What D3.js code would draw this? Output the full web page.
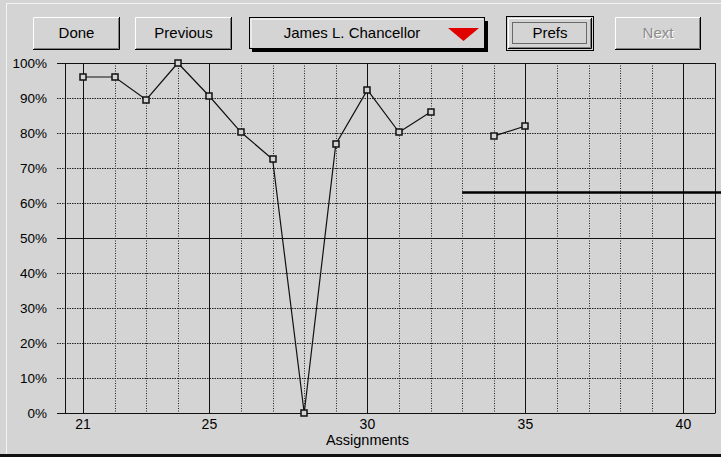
<!DOCTYPE html>
<html lang="en">
<head>
  <title>Assignments</title>
  <script src="https://d3js.org/d3.v7.min.js"></script>
  <style>
    body { margin: 0; background: #d4d4d4; }
    text { font-family: "Liberation Sans", Arial, sans-serif; fill: #000; }
  </style>
</head>
<body>
<div id="dataviz"></div>
<script>
  // assignment numbers and the student's scores (%), null = not handed in
  var assignments = [21, 22, 23, 24, 25, 26, 27, 28, 29, 30, 31, 32, 33, 34, 35];
  var scores = [96, 96, 89.5, 100, 90.5, 80.2, 72.5, 0, 76.8, 92.3, 80.2, 86, null, 79.1, 82];
  var xTickLabels = [21, 25, 30, 35, 40];
  var yTickLabels = [0, 10, 20, 30, 40, 50, 60, 70, 80, 90, 100];
  var solidY = [0, 50, 100];
  // reference line shown from assignment 33 on
  var refStart = 33;
  var refValue = 63;
  var studentName = "James L. Chancellor";

  var W = 721, H = 457;
  var svg = d3.select("#dataviz")
    .append("svg")
    .attr("width", W)
    .attr("height", H)
    .style("display", "block");

  // window frame
  svg.append("rect").attr("x", 0).attr("y", 0).attr("width", W).attr("height", H).attr("fill", "#d4d4d4");
  svg.append("line").attr("x1", 6).attr("x2", W).attr("y1", 3.5).attr("y2", 3.5).attr("stroke", "#f4f4f4");
  svg.append("line").attr("x1", 6.5).attr("x2", 6.5).attr("y1", 3).attr("y2", 454).attr("stroke", "#f4f4f4");
  svg.append("rect").attr("x", 0).attr("y", 454).attr("width", W).attr("height", 3).attr("fill", "#111");

  var x = d3.scaleLinear().domain([20.43, 41]).range([65, 715]);
  var y = d3.scaleLinear().domain([0, 100]).range([413, 63]);

  var g = svg.append("g");

  // dotted vertical grid
  var allX = d3.range(22, 41).filter(function(d){ return xTickLabels.indexOf(d) < 0; });
  g.selectAll(".vdot").data(allX).enter().append("line")
    .attr("x1", function(d){ return Math.round(x(d)) + 0.5; })
    .attr("x2", function(d){ return Math.round(x(d)) + 0.5; })
    .attr("y1", y(100)).attr("y2", y(0))
    .attr("stroke", "#222").attr("stroke-dasharray", "1,1.5");

  // dotted horizontal grid (with left ticks)
  var dotY = yTickLabels.filter(function(d){ return solidY.indexOf(d) < 0; });
  g.selectAll(".hdot").data(dotY).enter().append("line")
    .attr("x1", 57).attr("x2", 715)
    .attr("y1", function(d){ return Math.round(y(d)) + 0.5; })
    .attr("y2", function(d){ return Math.round(y(d)) + 0.5; })
    .attr("stroke", "#222").attr("stroke-dasharray", "1.5,1");

  // solid verticals at labelled ticks
  g.selectAll(".vsol").data(xTickLabels).enter().append("line")
    .attr("x1", function(d){ return Math.round(x(d)) + 0.5; })
    .attr("x2", function(d){ return Math.round(x(d)) + 0.5; })
    .attr("y1", y(100)).attr("y2", y(0))
    .attr("stroke", "#111");

  // solid horizontals 0/50/100
  g.selectAll(".hsol").data(solidY).enter().append("line")
    .attr("x1", 57).attr("x2", 715)
    .attr("y1", function(d){ return Math.round(y(d)) + 0.5; })
    .attr("y2", function(d){ return Math.round(y(d)) + 0.5; })
    .attr("stroke", "#111");

  // plot box sides
  g.append("line").attr("x1", 65.5).attr("x2", 65.5).attr("y1", y(100)).attr("y2", y(0) + 0.5).attr("stroke", "#111");
  g.append("line").attr("x1", 715.5).attr("x2", 715.5).attr("y1", y(100)).attr("y2", y(0) + 0.5).attr("stroke", "#111");

  // y labels
  g.selectAll(".ylab").data(yTickLabels).enter().append("text")
    .attr("x", 47).attr("y", function(d){ return y(d) + 5; })
    .attr("text-anchor", "end").style("font-size", "13.5px")
    .text(function(d){ return d + "%"; });

  // x labels
  g.selectAll(".xlab").data(xTickLabels).enter().append("text")
    .attr("x", function(d){ return x(d); }).attr("y", 429)
    .attr("text-anchor", "middle").style("font-size", "14px")
    .text(function(d){ return d; });

  g.append("text").attr("x", x(30)).attr("y", 445)
    .attr("text-anchor", "middle").style("font-size", "14.5px")
    .text("Assignments");

  // reference line
  g.append("line")
    .attr("x1", x(refStart)).attr("x2", W)
    .attr("y1", y(refValue)).attr("y2", y(refValue))
    .attr("stroke", "#000").attr("stroke-width", 2.5);

  // score line
  var data = assignments.map(function(a, i){ return {a: a, v: scores[i]}; });
  var line = d3.line()
    .defined(function(d){ return d.v !== null; })
    .x(function(d){ return x(d.a); })
    .y(function(d){ return y(d.v); });
  g.append("path").datum(data)
    .attr("d", line)
    .attr("fill", "none").attr("stroke", "#111").attr("stroke-width", 1.2);

  g.selectAll(".pt").data(data.filter(function(d){ return d.v !== null; })).enter().append("rect")
    .attr("x", function(d){ return Math.round(x(d.a)) - 3; })
    .attr("y", function(d){ return Math.round(y(d.v)) - 3; })
    .attr("width", 6).attr("height", 6)
    .attr("fill", "#d4d4d4").attr("stroke", "#111").attr("stroke-width", 1.5);

  // toolbar buttons
  function button(x0, x1, label, opts) {
    opts = opts || {};
    var b = svg.append("g");
    var y0 = 17, y1 = 50;
    if (opts.def) {
      b.append("rect").attr("x", x0 - 0.5).attr("y", y0 - 0.5).attr("width", x1 - x0 + 1).attr("height", y1 - y0 + 1)
        .attr("fill", "none").attr("stroke", "#000");
      x0 += 1; y0 += 1; x1 -= 1; y1 -= 1;
    }
    b.append("rect").attr("x", x0).attr("y", y0).attr("width", x1 - x0).attr("height", y1 - y0).attr("fill", "#d4d4d4");
    b.append("path").attr("d", "M" + (x0 + 0.5) + "," + (y1 - 1) + "V" + (y0 + 0.5) + "H" + (x1 - 1))
      .attr("fill", "none").attr("stroke", "#fff");
    b.append("path").attr("d", "M" + x0 + "," + (y1 - 0.5) + "H" + (x1 - 0.5) + "V" + y0)
      .attr("fill", "none").attr("stroke", "#000");
    b.append("path").attr("d", "M" + (x0 + 1) + "," + (y1 - 1.5) + "H" + (x1 - 1.5) + "V" + (y0 + 1))
      .attr("fill", "none").attr("stroke", "#808080");
    if (opts.focus) {
      b.append("rect").attr("x", x0 + 4.5).attr("y", y0 + 4.5).attr("width", x1 - x0 - 10).attr("height", y1 - y0 - 10)
        .attr("fill", "none").attr("stroke", "#000").attr("stroke-dasharray", "1,1");
    }
    var cx = (x0 + x1) / 2;
    if (opts.disabled) {
      b.append("text").attr("x", cx + 1).attr("y", 39).attr("text-anchor", "middle")
        .style("font-size", "15px").style("fill", "#fff").text(label);
    }
    b.append("text").attr("x", cx).attr("y", 38).attr("text-anchor", "middle")
      .style("font-size", "15px").style("fill", opts.disabled ? "#8c8c8c" : "#000").text(label);
  }

  button(33, 120, "Done");
  button(135, 232, "Previous");
  button(507, 593, "Prefs", {def: true, focus: true});
  button(615, 701, "Next", {disabled: true});

  // name popup
  var pop = svg.append("g");
  pop.append("rect").attr("x", 252).attr("y", 21).attr("width", 236).attr("height", 31).attr("fill", "#000");
  pop.append("rect").attr("x", 249.5).attr("y", 17.5).attr("width", 235).attr("height", 31)
    .attr("fill", "#d4d4d4").attr("stroke", "#000");
  pop.append("path").attr("d", "M251,47V19H483").attr("fill", "none").attr("stroke", "#fff");
  pop.append("text").attr("x", 352).attr("y", 38).attr("text-anchor", "middle")
    .style("font-size", "15px").text(studentName);
  pop.append("path").attr("d", "M448,28L479,28L463.5,41Z").attr("fill", "#e00000");
</script>
</body>
</html>
